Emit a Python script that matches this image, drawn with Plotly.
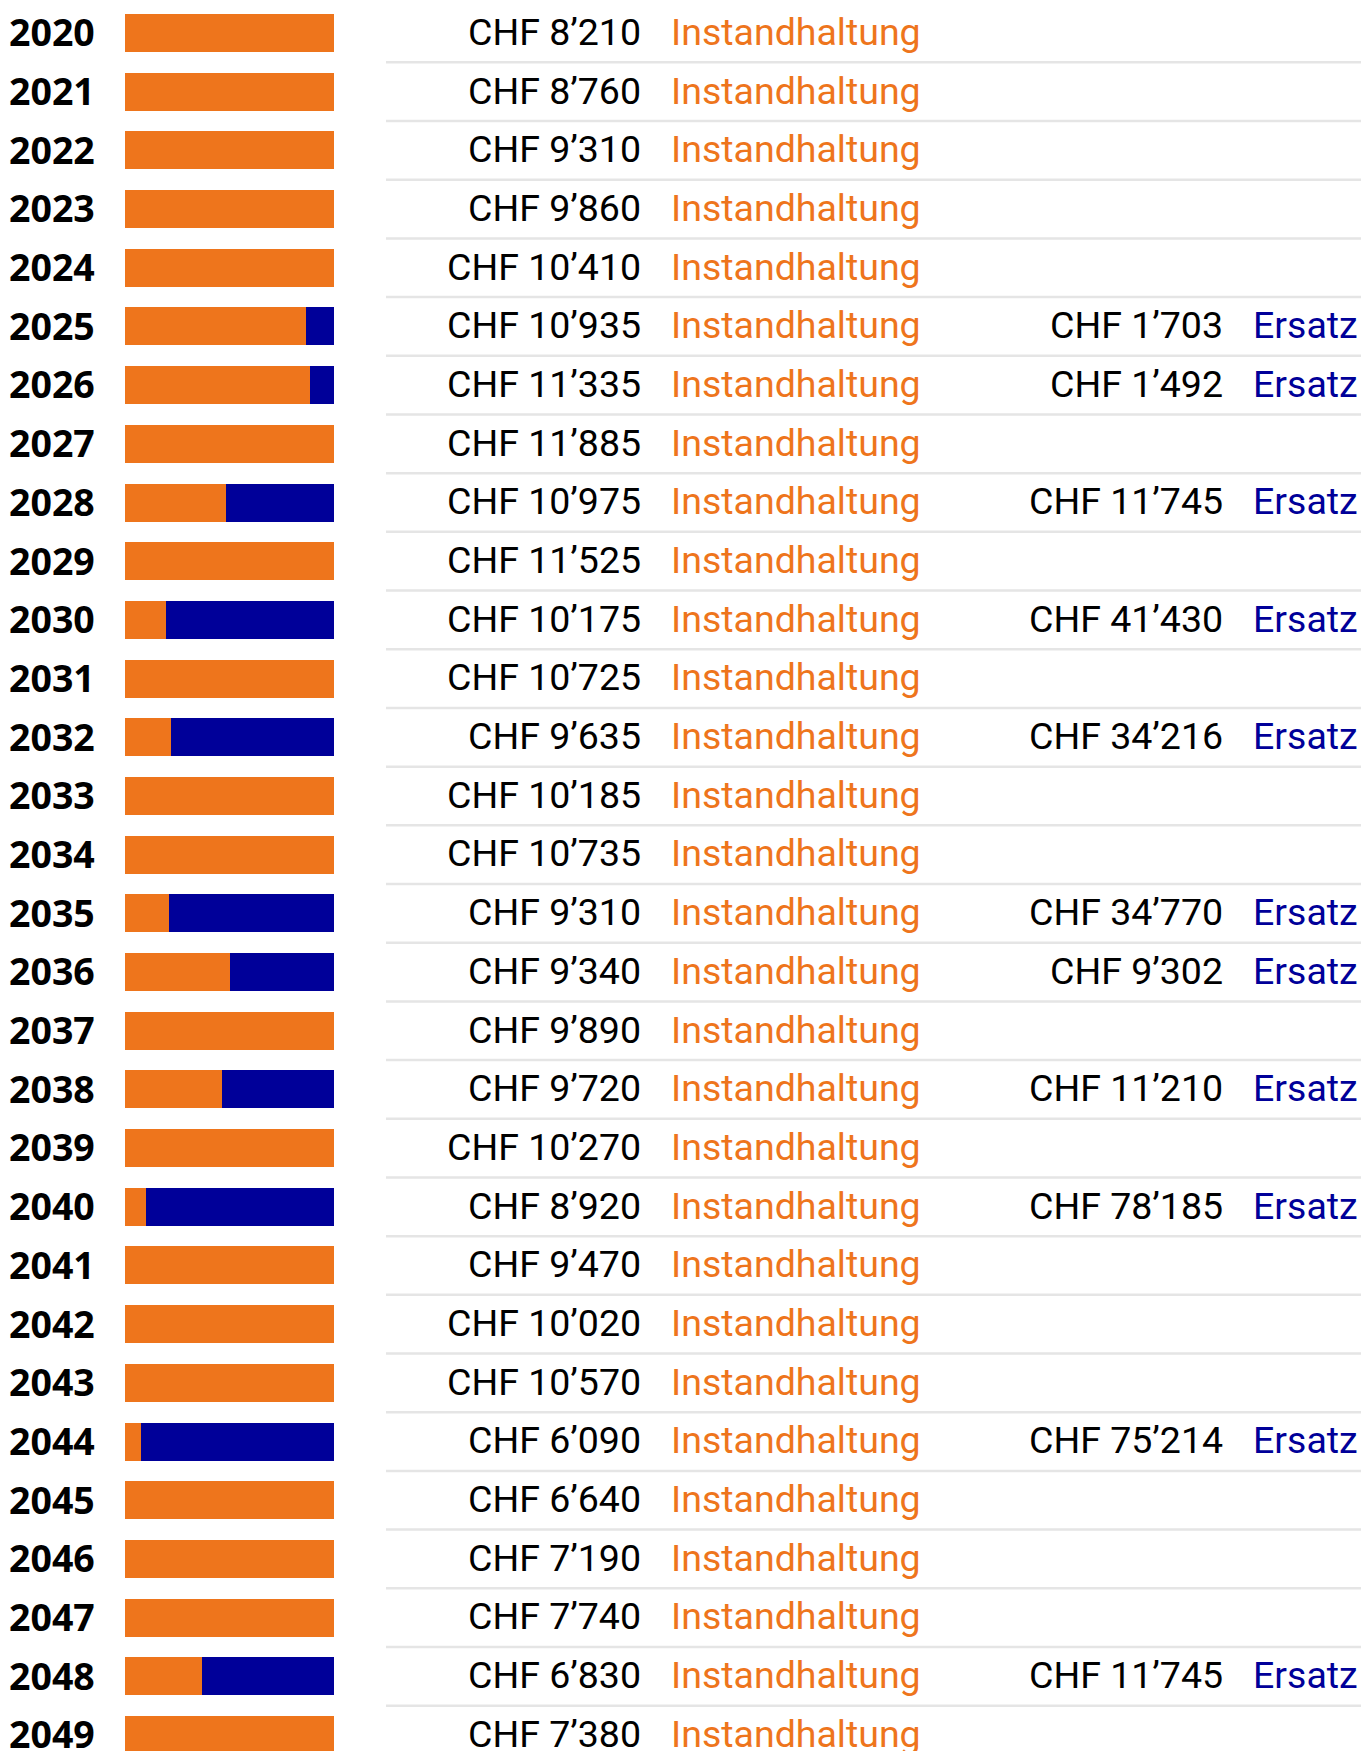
import plotly.graph_objects as go

years = [str(y) for y in range(2020, 2050)]
instandhaltung = [8210, 8760, 9310, 9860, 10410, 10935, 11335, 11885, 10975, 11525,
                  10175, 10725, 9635, 10185, 10735, 9310, 9340, 9890, 9720, 10270,
                  8920, 9470, 10020, 10570, 6090, 6640, 7190, 7740, 6830, 7380]
ersatz = [0, 0, 0, 0, 0, 1703, 1492, 0, 11745, 0,
          41430, 0, 34216, 0, 0, 34770, 9302, 0, 11210, 0,
          78185, 0, 0, 0, 75214, 0, 0, 0, 11745, 0]
label_i = "Instandhaltung"
label_e = "Ersatz"

ORANGE = "#EE751C"
BLUE = "#000099"
W, H = 1361, 1751
FS = 37.5


def px(x):
    return x / W


def chf(v):
    return "CHF " + f"{v:,}".replace(",", "\u2019")


idx = list(range(len(years)))

fig = go.Figure()
fig.add_trace(go.Bar(y=idx, x=instandhaltung, orientation="h", marker_color=ORANGE,
                     marker_line_width=0, width=0.6475, name=label_i, hoverinfo="skip"))
fig.add_trace(go.Bar(y=idx, x=ersatz, orientation="h", marker_color=BLUE,
                     marker_line_width=0, width=0.6475, name=label_e, hoverinfo="skip"))

pitch = 58.69
top = -33 / pitch
bottom = top + H / pitch

annotations = []
shapes = []
for i, (yr, vi, ve) in enumerate(zip(years, instandhaltung, ersatz)):
    annotations.append(dict(x=px(97), xref="paper", y=i - 0.02, yref="y", text=yr,
                            xanchor="right", yanchor="middle", showarrow=False,
                            font=dict(family="Open Sans", size=37.5, color="#000000",
                                      weight="bold")))
    annotations.append(dict(x=px(643), xref="paper", y=i - 0.02, yref="y", text=chf(vi),
                            xanchor="right", yanchor="middle", showarrow=False,
                            font=dict(family="Roboto", size=FS, color="#000000")))
    annotations.append(dict(x=px(669), xref="paper", y=i - 0.02, yref="y", text=label_i,
                            xanchor="left", yanchor="middle", showarrow=False,
                            font=dict(family="Roboto", size=FS, color=ORANGE)))
    if ve > 0:
        annotations.append(dict(x=px(1225), xref="paper", y=i - 0.02, yref="y", text=chf(ve),
                                xanchor="right", yanchor="middle", showarrow=False,
                                font=dict(family="Roboto", size=FS, color="#000000")))
        annotations.append(dict(x=px(1251), xref="paper", y=i - 0.02, yref="y", text=label_e,
                                xanchor="left", yanchor="middle", showarrow=False,
                                font=dict(family="Roboto", size=FS, color=BLUE)))
    if i < len(years) - 1:
        shapes.append(dict(type="line", xref="paper", yref="y", x0=px(386), x1=1,
                           y0=i + 0.5, y1=i + 0.5, line=dict(color="#E5E5E5", width=2.5),
                           layer="below"))

fig.update_layout(
    width=W, height=H,
    margin=dict(l=0, r=0, t=0, b=0),
    paper_bgcolor="white", plot_bgcolor="white",
    barmode="stack", barnorm="fraction",
    showlegend=False,
    annotations=annotations, shapes=shapes,
    xaxis=dict(domain=[px(125), px(334)], range=[0, 1], visible=False, fixedrange=True),
    yaxis=dict(range=[bottom, top], showgrid=False, zeroline=False,
               showline=False, showticklabels=False, ticks="", fixedrange=True),
    hovermode=False,
)

fig.write_html("out.html", config={"displayModeBar": False},
               post_script="document.body.style.margin='0';"
                           "document.body.style.overflow='hidden';")
